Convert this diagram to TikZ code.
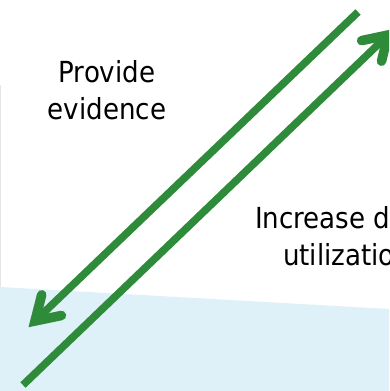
\documentclass[tikz,border=0pt]{standalone}
\usepackage{fontspec}
\usetikzlibrary{calc}
\newfontfamily\labelfont{DejaVu Sans Condensed}
\definecolor{arrowgreen}{HTML}{2E8B3A}
\definecolor{paleblue}{HTML}{DEF0F8}
\tikzset{
  shaft/.style={draw=arrowgreen, line width=7.5pt},
  barb/.style={draw=arrowgreen, line width=9.5pt, line cap=round, line join=miter},
  shade/.style={draw=black, draw opacity=0.10, shift={(1.5,1.5)}},
  lbl/.style={font=\labelfont\fontsize{29}{37}\selectfont, inner sep=0pt, text=black}
}
\begin{document}
\begin{tikzpicture}[x=1pt,y=-1pt]
\clip (0,0) rectangle (389,391);
\fill[white] (0,0) rectangle (389,391);
% pale blue band
\fill[paleblue] (0,287) -- (389,309) -- (389,391) -- (0,391) -- cycle;
% faint left edge
\draw[black!10, line width=1pt] (0.5,85) -- (0.5,287);
% coordinates
\coordinate (a1s) at (358,12);
\coordinate (a1t) at (35,321);
\coordinate (a1l) at (41.7,294.8);
\coordinate (a1r) at (61.4,315.5);
\coordinate (a2s) at (23,385);
\coordinate (a2t) at (388,35);
\coordinate (a2l) at (361.6,40.6);
\coordinate (a2r) at (381.5,61.2);
% shadows
\draw[shaft, shade] (a1s) -- ($(a1t)!4pt!(a1s)$);
\draw[barb, shade] (a1l) -- (a1t) -- (a1r);
\draw[shaft, shade] (a2s) -- ($(a2t)!4pt!(a2s)$);
\draw[barb, shade] (a2l) -- (a2t) -- (a2r);
% arrow 1: provide evidence (down-left)
\draw[shaft] (a1s) -- ($(a1t)!4pt!(a1s)$);
\draw[barb] (a1l) -- (a1t) -- (a1r);
% arrow 2: increase data utilization (up-right)
\draw[shaft] (a2s) -- ($(a2t)!4pt!(a2s)$);
\draw[barb] (a2l) -- (a2t) -- (a2r);
% labels
\node[lbl, anchor=base] (pe1) at (107,82) {Provide};
\node[lbl, anchor=base] (pe2) at (107,119) {evidence};
\node[lbl, anchor=base west] (iu1) at (255,228) {Increase data};
\node[lbl, anchor=base west] (iu2) at (283,265) {utilization};
\end{tikzpicture}
\end{document}
